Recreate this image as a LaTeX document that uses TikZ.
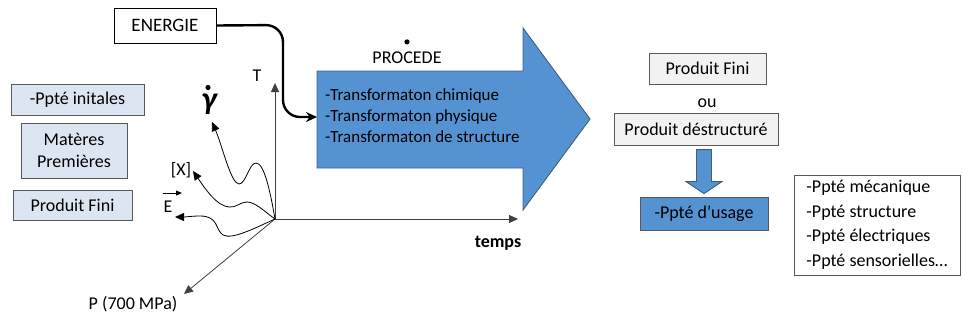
\documentclass[tikz,border=0pt]{standalone}
\usepackage{fontspec}
\setmainfont{Carlito}
\usetikzlibrary{arrows.meta,calc}

\definecolor{boxline}{HTML}{595959}
\definecolor{paleblue}{HTML}{DCE6F2}
\definecolor{palegray}{HTML}{F2F2F2}
\definecolor{procblue}{HTML}{5592D2}
\definecolor{procline}{HTML}{3F5F80}
\definecolor{axisgray}{HTML}{404040}

\tikzset{
  txt/.style={font=\fontsize{18}{21}\selectfont, inner sep=0pt},
  infobox/.style={draw=boxline, line width=0.8pt, fill=paleblue, inner sep=0pt,
    font=\fontsize{18}{22}\selectfont, align=center},
  grbox/.style={draw=boxline, line width=0.8pt, fill=palegray, inner sep=0pt,
    font=\fontsize{18}{22}\selectfont},
  whbox/.style={draw=boxline, line width=0.8pt, fill=white, inner sep=0pt},
  axis/.style={draw=axisgray, line width=0.8pt, -{Triangle[length=9pt,width=8pt]}},
  wave/.style={draw=black, line width=0.8pt, -{Triangle[length=9pt,width=8pt]}},
}

\begin{document}
\begin{tikzpicture}[x=1pt, y=-1pt]
\useasboundingbox (0,0) rectangle (963,322);

% energy input
\node[whbox, draw=black, minimum width=102pt, minimum height=35pt,
      font=\fontsize{19}{22}\selectfont] (energie) at (165,25.5) {ENERGIE};

% process arrow
\draw[fill=procblue, draw=procline, line width=0.9pt]
  (317,71) -- (523,71) -- (523,28) -- (590,119) -- (523,210) -- (523,168)
  -- (317,168) -- cycle;
\coordinate (inlet) at (317,117);
\node[txt, anchor=west, align=left, font=\fontsize{17}{21}\selectfont] (trans) at (325,116)
  {-Transformaton chimique\\-Transformaton physique\\-Transformaton de structure};
\node[txt] (procede) at (407,58) {PROCEDE};
\fill (procede.north) ++(0,-10) circle (2.6pt);

\draw[line width=2.4pt, rounded corners=17pt, -{Stealth[length=11pt,width=10pt]}]
  (energie.east) -- (283,25) -- (283,117) -- (inlet);

% raw material boxes
\node[infobox, minimum width=133pt, minimum height=31pt] (ppti) at (77.5,99.5) {-Ppté initales};
\node[infobox, minimum width=106pt, minimum height=55pt] (mat) at (74,150.5) {Matères\\Premières};
\node[infobox, minimum width=119pt, minimum height=30pt] (pfin) at (72.5,205) {Produit Fini};

% process variable axes
\coordinate (O) at (275,219);
\coordinate (Ttip) at (275,83);
\coordinate (ttip) at (518,219);
\coordinate (Ptip) at (184,294);
\draw[axis] (O) -- (Ttip);
\draw[axis] (O) -- (ttip);
\draw[axis] (O) -- (Ptip);
\node[txt] (Tlab) at (257,76) {T};
\node[txt, font=\fontsize{18}{21}\selectfont\bfseries] (temps) at (498,243) {temps};
\node[txt] (Plab) at (133,304) {P (700 MPa)};

% shear rate
\coordinate (gtip) at (212,122);
\draw[wave] (O) .. controls (270,190) and (264,163) .. (256,163)
  .. controls (249,163) and (246,184) .. (239,184)
  .. controls (231,184) and (222,145) .. (gtip);
\node[inner sep=0pt, font=\fontsize{32}{32}\selectfont\bfseries\itshape] (glab) at (209,104) {γ};
\fill (glab.north) ++(-1,-6) circle (2.6pt);

% concentration
\coordinate (xtip) at (193,171);
\draw[wave] (O) .. controls (264,211) and (255,202) .. (247,202)
  .. controls (240,202) and (236,208) .. (229,207)
  .. controls (217,206) and (206,190) .. (xtip);
\node[txt] (xlab) at (181,170) {[X]};

% electric field
\coordinate (etip) at (175,217);
\draw[wave] (O) .. controls (255,228) and (232,240) .. (223,235)
  .. controls (215,230) and (219,216) .. (200,216)
  .. controls (192,216) and (186,217) .. (etip);
\node[txt] (elab) at (168,207) {E};
\draw[line width=0.8pt, -{Triangle[length=6pt,width=5pt]}]
  ($(elab.north)+(-5,-8)$) -- ($(elab.north)+(14,-8)$);

% output side
\node[grbox, minimum width=117pt, minimum height=31pt] (pf2) at (707.5,68.5) {Produit Fini};
\node[txt] (ou) at (707,103) {ou};
\node[grbox, minimum width=164pt, minimum height=32pt] (pd) at (696,129) {Produit déstructuré};
\node[draw=boxline, line width=0.8pt, fill=procblue, inner sep=0pt,
      minimum width=128pt, minimum height=33pt, font=\fontsize{18}{22}\selectfont]
  (usage) at (704,213.5) {-Ppté d’usage};
\draw[fill=procblue, draw=procline, line width=0.9pt]
  ($(usage.north)+(-7.5,-47)$) -- ($(usage.north)+(7.5,-47)$)
  -- ($(usage.north)+(7.5,-15)$) -- ($(usage.north)+(18,-15)$)
  -- ($(usage.north)+(0,-3)$) -- ($(usage.north)+(-18,-15)$)
  -- ($(usage.north)+(-7.5,-15)$) -- cycle;

\node[whbox, minimum width=166pt, minimum height=100pt,
      align=left, font=\fontsize{18}{24.5}\selectfont] (props) at (877,225)
  {-Ppté mécanique\\-Ppté structure\\-Ppté électriques\\-Ppté sensorielles…};
\end{tikzpicture}
\end{document}
